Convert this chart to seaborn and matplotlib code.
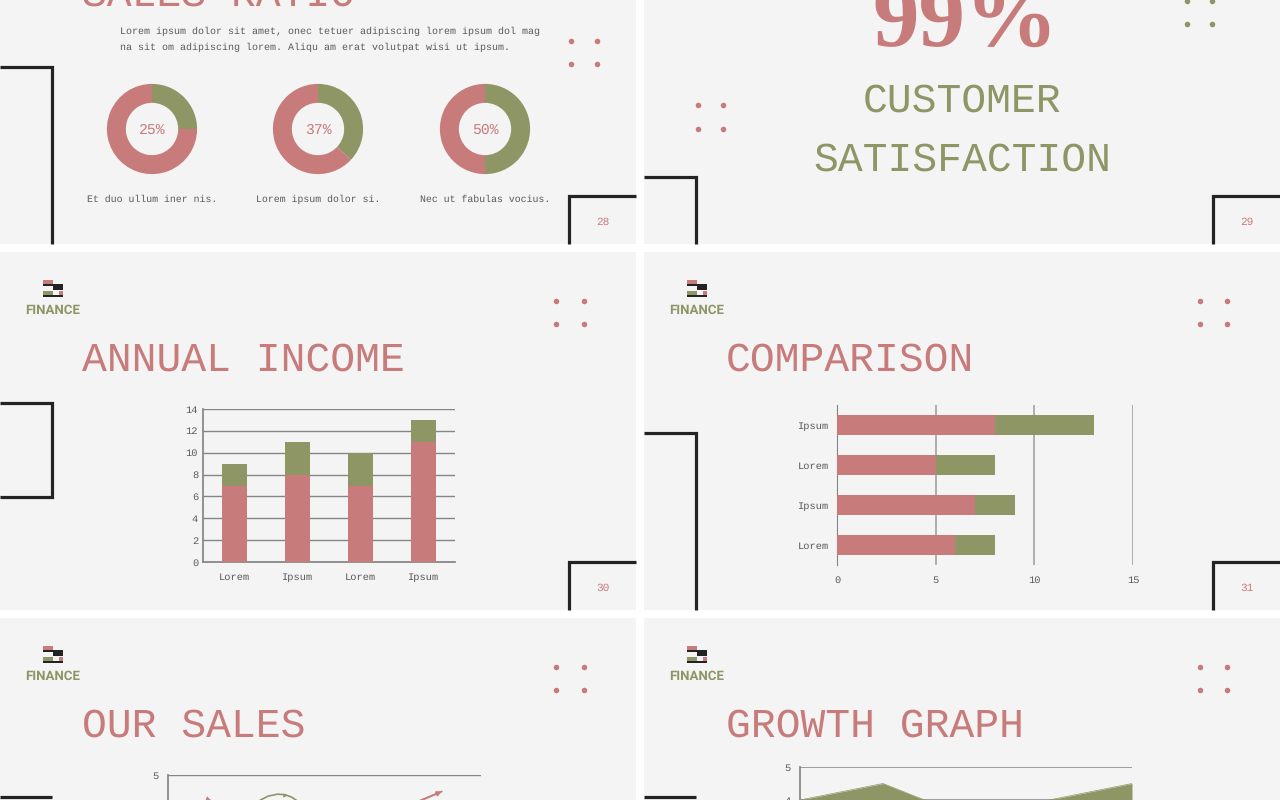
import numpy as np
import matplotlib
matplotlib.use("Agg")
import matplotlib.pyplot as plt
from matplotlib.patches import Rectangle
import seaborn as sns

W, H = 1280, 800
PINK = "#c87b7b"
GREEN = "#8f9666"
TEXT = "#5a5a5a"
DARK = "#232323"
PANEL = "#f4f4f4"
GRID = "#858585"

# donuts
donut_values = [25, 37, 50]
donut_notes = ["Et duo ullum iner nis.", "Lorem ipsum dolor si.", "Nec ut fabulas vocius."]

# annual income
income_labels = ["Lorem", "Ipsum", "Lorem", "Ipsum"]
income_pink = [7, 8, 7, 11]
income_green = [2, 3, 3, 2]
income_ticks = [0, 2, 4, 6, 8, 10, 12, 14]

# comparison, top row first
comp_labels = ["Ipsum", "Lorem", "Ipsum", "Lorem"]
comp_pink = [8, 5, 7, 6]
comp_green = [5, 3, 2, 2]
comp_ticks = [0, 5, 10, 15]

# our sales: only the tops of the lines are on the picture
sales_pos = [0, 1, 2, 3]
sales_pink = [4.3, 2.5, 3.5, 4.5]
sales_green_pos = [0.68, 0.78, 0.9, 1.0, 1.08, 1.15]
sales_green = [4.24, 4.36, 4.42, 4.4, 4.33, 4.22]

# growth graph
growth_pos = [0, 1, 2, 3, 4]
growth_vals = [4, 4.5, 3.5, 4, 4.5]

sns.set_theme(style="white")
plt.rcParams["font.family"] = ["Liberation Mono", "DejaVu Sans"]
plt.rcParams["axes.facecolor"] = "none"
plt.rcParams["text.hinting"] = "no_hinting"

fig = plt.figure(figsize=(W / 100, H / 100), dpi=100, facecolor="white")


def px_axes(x0, y0, x1, y1):
    # axes placed by pixel box, y measured from the top of the image
    ax = fig.add_axes([x0 / W, 1 - y1 / H, (x1 - x0) / W, (y1 - y0) / H])
    ax.patch.set_alpha(0)
    return ax


bg = px_axes(0, 0, W, H)
bg.set_xlim(0, W)
bg.set_ylim(H, 0)
bg.axis("off")

for x0, x1 in [(0, 636), (644, 1280)]:
    for y0, y1 in [(0, 244), (252, 610), (618, 800)]:
        bg.add_patch(Rectangle((x0, y0), x1 - x0, y1 - y0, color=PANEL, lw=0))


def dots(x0, x1, y0, y1, color=PINK):
    bg.scatter([x0, x1, x0, x1], [y0, y0, y1, y1], s=16, color=color, lw=0)


def bracket(xs, ys):
    bg.plot(xs, ys, color=DARK, lw=2.3, solid_joinstyle="miter", solid_capstyle="butt")


def title(x, y, s, color=PINK, ha="left"):
    bg.text(x, y, s, color=color, fontsize=29.8, ha=ha, va="baseline")


def logo(x, y):
    bg.add_patch(Rectangle((x, y), 10, 3.5, color=PINK, lw=0))
    bg.add_patch(Rectangle((x, y + 3.5), 20, 2.5, color=DARK, lw=0))
    bg.add_patch(Rectangle((x + 10, y + 6), 10, 3.5, color=DARK, lw=0))
    bg.add_patch(Rectangle((x, y + 11), 10, 3.5, color=GREEN, lw=0))
    bg.add_patch(Rectangle((x + 16, y + 11), 4, 3.5, color=PINK, lw=0))
    bg.add_patch(Rectangle((x, y + 14.5), 20, 2.5, color=DARK, lw=0))
    bg.text(x + 10, y + 30, "FINANCE", family="Roboto", weight="bold", fontsize=9.5,
            color=GREEN, ha="center", va="center")


# slide 28
title(82, 6, "SALES RATIO")
bg.text(120, 31, "Lorem ipsum dolor sit amet, onec tetuer adipiscing lorem ipsum dol mag",
        color=TEXT, fontsize=7.17, va="center")
bg.text(120, 47, "na sit om adipiscing lorem. Aliqu am erat volutpat wisi ut ipsum.",
        color=TEXT, fontsize=7.17, va="center")
dots(571, 597, 41, 64)
bracket([0, 52, 52], [67, 67, 244])
bracket([569, 569, 636], [244, 196, 196])
bg.text(603, 222, "28", color=PINK, fontsize=8, ha="center", va="center")

for cx, val, note in zip([152, 318, 485], donut_values, donut_notes):
    ax = px_axes(cx - 46, 83, cx + 46, 175)
    ax.pie([val, 100 - val], colors=[GREEN, PINK], startangle=90, counterclock=False,
           radius=1.0, wedgeprops=dict(width=0.42, lw=0))
    ax.set_xlim(-1.02, 1.02)
    ax.set_ylim(-1.02, 1.02)
    ax.text(0, -0.02, f"{val}%", color=PINK, fontsize=10.6, ha="center", va="center")
    bg.text(cx, 199, note, color=TEXT, fontsize=7.1, ha="center", va="center")

# slide 29
bg.text(965, 47, "99%", color=PINK, family="Liberation Serif", weight="bold", fontsize=67,
        ha="center", va="baseline")
title(962, 112, "CUSTOMER", color=GREEN, ha="center")
title(962, 171, "SATISFACTION", color=GREEN, ha="center")
dots(1187, 1212, 1, 24, color=GREEN)
dots(698, 723, 105, 129)
bracket([644, 696, 696], [177, 177, 244])
bracket([1213, 1213, 1280], [244, 196, 196])
bg.text(1247, 222, "29", color=PINK, fontsize=8, ha="center", va="center")

# slide 30
logo(43, 280)
title(82, 371, "ANNUAL INCOME")
dots(556, 584, 301, 324)
bracket([0, 52, 52, 0], [403, 403, 497, 497])
bracket([569, 569, 636], [610, 562, 562])
bg.text(603, 588, "30", color=PINK, fontsize=8, ha="center", va="center")

ax = px_axes(203, 409, 455, 562)
income_pos = list(range(len(income_labels)))
income_total = np.add(income_pink, income_green)
sns.barplot(x=income_pos, y=income_total, color=GREEN, saturation=1, width=0.41, lw=0, ax=ax, zorder=3)
sns.barplot(x=income_pos, y=income_pink, color=PINK, saturation=1, width=0.41, lw=0, ax=ax, zorder=4)
ax.set_xlim(-0.5, 3.5)
ax.set_ylim(0, 14)
ax.set_yticks(income_ticks)
ax.set_xticks(income_pos, income_labels)
ax.grid(axis="y", color=GRID, lw=1)
ax.set_axisbelow(True)
ax.tick_params(length=0, labelsize=7.5, labelcolor=TEXT)
ax.tick_params(axis="x", pad=8)
sns.despine(ax=ax, top=True, right=True)
ax.spines["left"].set_color(GRID)
ax.spines["bottom"].set_color(GRID)

# slide 31
logo(687, 280)
title(726, 371, "COMPARISON")
dots(1200, 1227, 301, 324)
bracket([644, 696, 696], [433, 433, 610])
bracket([1213, 1213, 1280], [610, 562, 562])
bg.text(1247, 588, "31", color=PINK, fontsize=8, ha="center", va="center")

ax = px_axes(837, 405, 1133, 565)
comp_pos = [str(i) for i in range(len(comp_labels))]
comp_total = np.add(comp_pink, comp_green)
sns.barplot(y=comp_pos, x=comp_total, color=GREEN, saturation=1, width=0.5, lw=0, ax=ax, zorder=3)
sns.barplot(y=comp_pos, x=comp_pink, color=PINK, saturation=1, width=0.5, lw=0, ax=ax, zorder=4)
ax.set_xlim(0, 15)
ax.set_xticks(comp_ticks)
ax.set_yticks(range(len(comp_labels)), comp_labels)
ax.grid(axis="x", color="#9a9a9a", lw=1.1)
ax.set_axisbelow(True)
ax.tick_params(length=0, labelsize=7.5, labelcolor=TEXT)
ax.tick_params(axis="y", pad=6)
ax.tick_params(axis="x", pad=8)
sns.despine(ax=ax, top=True, right=True, bottom=True)
ax.spines["left"].set_color(GRID)
ax.spines["left"].set_linewidth(0.8)

# slide 32
logo(43, 646)
title(82, 737, "OUR SALES")
dots(556, 584, 667, 690)
bracket([0, 52], [797, 797])

ax = px_axes(168, 775, 481, 940)
sns.lineplot(x=sales_pos, y=sales_pink, color=PINK, lw=1.2, ax=ax, zorder=3)
sns.lineplot(x=sales_green_pos, y=sales_green, color=GREEN, lw=1.2, ax=ax, zorder=3)
ax.annotate("", xy=(sales_pos[3], sales_pink[3]), xytext=(sales_pos[2], sales_pink[2]),
            arrowprops=dict(arrowstyle="-|>", color=PINK, lw=1.2, mutation_scale=7, shrinkA=0, shrinkB=0))
ax.scatter(sales_pos[0], sales_pink[0], marker="^", s=10, color=PINK, lw=0, zorder=4)
ax.scatter(sales_green_pos[3], sales_green[3], marker=">", s=10, color=GREEN, lw=0, zorder=4)
ax.set_xlim(-0.5, 3.5)
ax.set_ylim(0, 5)
ax.set_yticks([5])
ax.set_xticks([])
ax.grid(axis="y", color=GRID, lw=1)
ax.tick_params(axis="y", length=3, width=1, color=GRID, labelsize=7.5, labelcolor=TEXT)
sns.despine(ax=ax, top=True, right=True)
ax.spines["left"].set_color(GRID)
ax.spines["bottom"].set_color(GRID)

# slide 33
logo(687, 646)
title(726, 737, "GROWTH GRAPH")
dots(1200, 1227, 667, 690)
bracket([644, 696], [797, 797])

ax = px_axes(800, 767, 1132, 932)
sns.lineplot(x=growth_pos, y=growth_vals, color=GREEN, lw=0.5, ax=ax, zorder=3)
ax.fill_between(growth_pos, growth_vals, color=GREEN, lw=0, zorder=3)
ax.set_xlim(0, 4)
ax.set_ylim(0, 5)
ax.set_yticks([4, 5])
ax.set_xticks([])
ax.grid(axis="y", color="#8f8f8f", lw=1.2)
ax.set_axisbelow(True)
ax.tick_params(axis="y", length=3, width=1, color=GRID, labelsize=7.5, labelcolor=TEXT)
sns.despine(ax=ax, top=True, right=True)
ax.spines["left"].set_color(GRID)
ax.spines["bottom"].set_color(GRID)

fig.savefig("out.png", dpi=100)
